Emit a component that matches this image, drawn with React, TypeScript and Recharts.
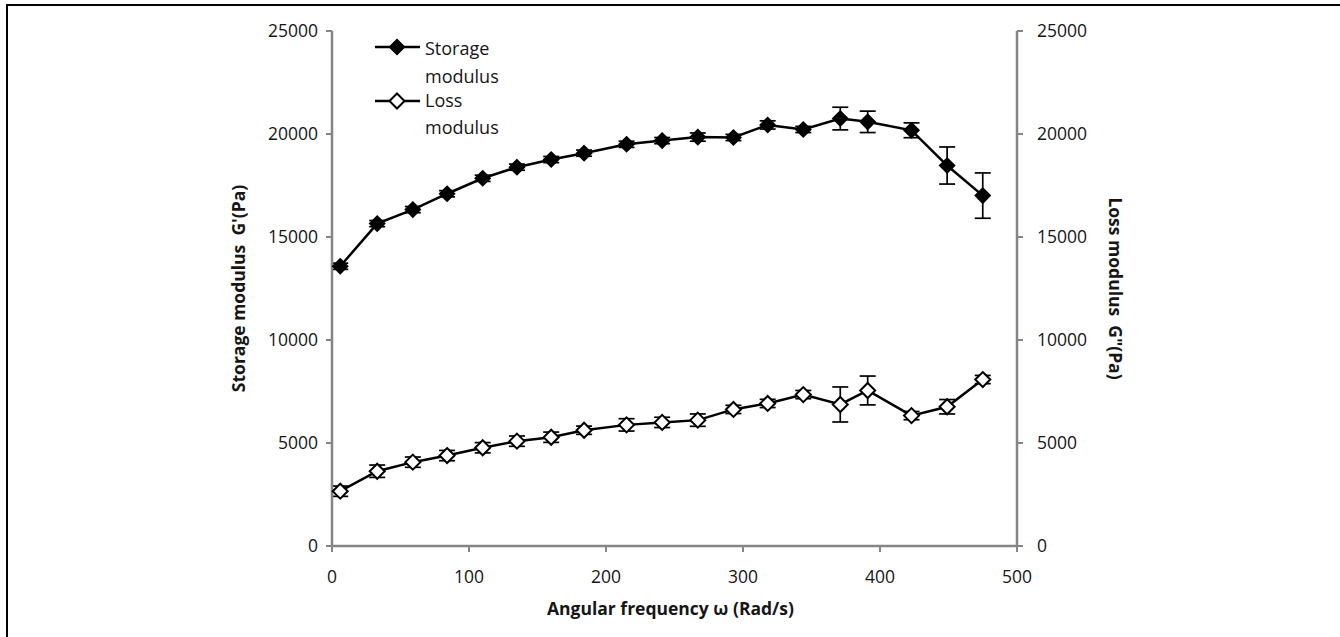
import React from "react";
import { LineChart, Line, XAxis, YAxis, ErrorBar, Label, Legend } from "recharts";

// angular frequency (rad/s)
const frequency = [6, 33, 59, 84, 110, 135, 160, 184, 215, 241, 267, 293, 318, 344, 371, 391, 423, 449, 475];
// storage modulus G' (Pa) and its error
const storage = [13580, 15650, 16330, 17100, 17850, 18390, 18760, 19070, 19500, 19680, 19850, 19830, 20440, 20220, 20750, 20590, 20180, 18470, 17010];
const storageErr = [150, 150, 150, 150, 150, 150, 150, 150, 150, 150, 200, 150, 200, 150, 550, 520, 360, 900, 1100];
// loss modulus G'' (Pa) and its error
const loss = [2660, 3630, 4070, 4390, 4770, 5090, 5280, 5620, 5880, 6000, 6110, 6630, 6920, 7350, 6870, 7550, 6330, 6760, 8080];
const lossErr = [250, 300, 250, 250, 250, 250, 250, 200, 300, 250, 300, 200, 200, 200, 850, 700, 200, 350, 200];

const xTicks = [0, 100, 200, 300, 400, 500];
const yTicks = [0, 5000, 10000, 15000, 20000, 25000];

const data = frequency.map((f, i) => ({
  f,
  storage: storage[i],
  storageErr: storageErr[i],
  loss: loss[i],
  lossErr: lossErr[i],
}));

const FONT = "'Open Sans', 'DejaVu Sans', sans-serif";
const AXIS = "#858585";
const TEXT = "#161616";

const diamondPath = (cx: number, cy: number) =>
  `M${cx},${cy - 7.5} L${cx + 7.5},${cy} L${cx},${cy + 7.5} L${cx - 7.5},${cy} Z`;

const LegendBox = () => (
  <svg width={170} height={115} style={{ fontFamily: FONT, overflow: "visible" }}>
    <line x1={5} y1={17} x2={50} y2={17} stroke="#000" strokeWidth={2.5} />
    <path d={diamondPath(27, 17)} fill="#000" stroke="#000" strokeWidth={1.5} />
    <text x={55} y={25} fontSize={18} fill={TEXT}>Storage</text>
    <text x={55} y={53} fontSize={18} fill={TEXT}>modulus</text>
    <line x1={5} y1={71} x2={50} y2={71} stroke="#000" strokeWidth={2.5} />
    <path d={diamondPath(27, 71)} fill="#fff" stroke="#000" strokeWidth={2} />
    <text x={55} y={77} fontSize={18} fill={TEXT}>Loss</text>
    <text x={55} y={104} fontSize={18} fill={TEXT}>modulus</text>
  </svg>
);

export default function App() {
  const tickStyle = { fontSize: 17.5, fill: TEXT, fontFamily: FONT };
  return (
    <div style={{ position: "absolute", left: 0, top: 0, width: 1340, height: 637, background: "#fff", overflow: "hidden" }}>
      <div style={{ position: "absolute", left: 6, top: 4, width: 1400, height: 700, borderTop: "2px solid #000", borderLeft: "2px solid #000" }} />
      <LineChart width={1340} height={637} data={data} margin={{ top: 31, right: 0, bottom: 0, left: 0 }}>
        <XAxis
          type="number"
          dataKey="f"
          domain={[0, 500]}
          ticks={xTicks}
          height={91}
          tickSize={6}
          tickMargin={19}
          tick={tickStyle}
          axisLine={{ stroke: AXIS, strokeWidth: 2.5 }}
          tickLine={{ stroke: AXIS, strokeWidth: 2 }}
        >
          <Label
            content={({ viewBox }: any) => (
              <text x={viewBox.x + viewBox.width / 2 - 4} y={615} textAnchor="middle" fontSize={17.5} fontWeight="bold" fontFamily={FONT} fill={TEXT}>
                Angular frequency ω (Rad/s)
              </text>
            )}
          />
        </XAxis>
        <YAxis
          yAxisId="left"
          domain={[0, 25000]}
          ticks={yTicks}
          width={332}
          tickSize={6}
          tickMargin={8}
          tick={tickStyle}
          axisLine={{ stroke: AXIS, strokeWidth: 2.5 }}
          tickLine={{ stroke: AXIS, strokeWidth: 2 }}
        >
          <Label
            content={({ viewBox }: any) => {
              const cy = viewBox.y + viewBox.height / 2;
              return (
                <text x={238} y={cy} transform={`rotate(-90 238 ${cy})`} textAnchor="middle" dominantBaseline="central" fontSize={17.5} fontWeight="bold" fontFamily={FONT} fill={TEXT} style={{ whiteSpace: "pre" }}>
                  {"Storage modulus  G'(Pa)"}
                </text>
              );
            }}
          />
        </YAxis>
        <YAxis
          yAxisId="right"
          orientation="right"
          domain={[0, 25000]}
          ticks={yTicks}
          width={323}
          tickSize={6}
          tickMargin={14}
          tick={tickStyle}
          axisLine={{ stroke: AXIS, strokeWidth: 2.5 }}
          tickLine={{ stroke: AXIS, strokeWidth: 2 }}
        >
          <Label
            content={({ viewBox }: any) => {
              const cy = viewBox.y + viewBox.height / 2;
              return (
                <text x={1116} y={cy} transform={`rotate(90 1116 ${cy})`} textAnchor="middle" dominantBaseline="central" fontSize={17.5} fontWeight="bold" fontFamily={FONT} fill={TEXT} style={{ whiteSpace: "pre" }}>
                  {'Loss modulus  G"(Pa)'}
                </text>
              );
            }}
          />
        </YAxis>
        <Legend
          layout="vertical"
          align="center"
          verticalAlign="middle"
          wrapperStyle={{ left: 370, top: 30, width: 170 }}
          content={() => <LegendBox />}
        />
        <Line
          yAxisId="left"
          dataKey="storage"
          name="Storage modulus"
          stroke="#000"
          strokeWidth={2.5}
          isAnimationActive={false}
          dot={(p: any) => <path key={`s-${p.index}`} d={diamondPath(p.cx, p.cy)} fill="#000" stroke="#000" strokeWidth={1.5} />}
        >
          <ErrorBar dataKey="storageErr" width={8} stroke="#000" strokeWidth={1.7} direction="y" />
        </Line>
        <Line
          yAxisId="right"
          dataKey="loss"
          name="Loss modulus"
          stroke="#000"
          strokeWidth={2.5}
          isAnimationActive={false}
          dot={(p: any) => <path key={`l-${p.index}`} d={diamondPath(p.cx, p.cy)} fill="#fff" stroke="#000" strokeWidth={2} />}
        />
        {/* loss error bars drawn over the hollow markers */}
        <Line
          yAxisId="right"
          dataKey="loss"
          stroke="none"
          dot={false}
          activeDot={false}
          legendType="none"
          isAnimationActive={false}
        >
          <ErrorBar dataKey="lossErr" width={8} stroke="#000" strokeWidth={1.7} direction="y" />
        </Line>
      </LineChart>
    </div>
  );
}
